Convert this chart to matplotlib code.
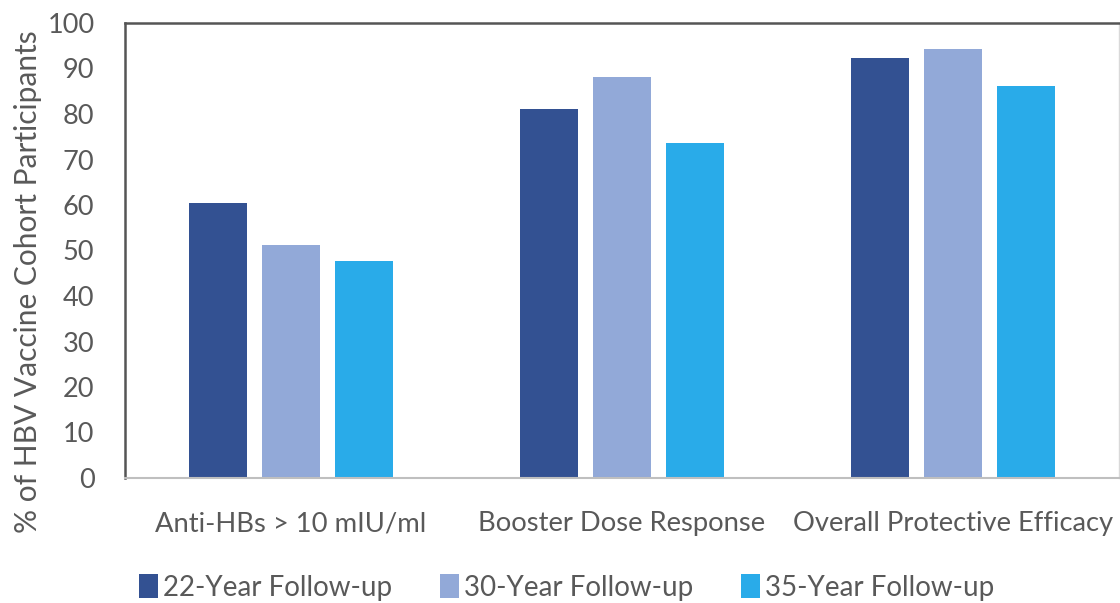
import matplotlib.pyplot as plt
import numpy as np

categories = ["Anti-HBs > 10 mIU/ml", "Booster Dose Response", "Overall Protective Efficacy"]
series_names = ["22-Year Follow-up", "30-Year Follow-up", "35-Year Follow-up"]
year22 = [60.5, 81.1, 92.3]
year30 = [51.2, 88.1, 94.3]
year35 = [47.7, 73.6, 86.2]
colors = ["#335192", "#92a9d8", "#29abe9"]

text_color = "#595959"
plt.rcParams['font.family'] = ['Lato', 'DejaVu Sans']

fig = plt.figure(figsize=(11.2, 6.03), dpi=100)
ax = fig.add_axes([125 / 1120, (603 - 478) / 603, 994 / 1120, 455 / 603])

x = np.arange(len(categories))
width = 0.175
step = 0.22
for i, (vals, name) in enumerate(zip([year22, year30, year35], series_names)):
    ax.bar(x + (i - 1) * step, vals, width, color=colors[i], label=name)

ax.set_xlim(-0.5, 2.5)
ax.set_ylim(0, 100)
ax.set_yticks(range(0, 101, 10))
ax.set_xticks(x)
ax.set_xticklabels(categories)
ax.tick_params(axis='both', length=0, colors=text_color)
ax.tick_params(axis='x', pad=24, labelsize=19.7)
ax.tick_params(axis='y', pad=22, labelsize=19.5)

for side, col, lw in [("left", "#555555", 1.8), ("top", "#555555", 1.8),
                      ("bottom", "#bfbfbf", 1.5), ("right", "#d9d9d9", 1.0)]:
    ax.spines[side].set_color(col)
    ax.spines[side].set_linewidth(lw)

# label anchor sits on its right edge (descender side) once rotated
ax.set_ylabel("% of HBV Vaccine Cohort Participants", fontsize=21.5, color=text_color)
ax.yaxis.set_label_coords((42 - 125) / 994, (478 - 282) / 455)

leg = fig.legend(loc="center", bbox_to_anchor=(566.5 / 1120, (603 - 587.5) / 603), ncol=3,
                 frameon=False, fontsize=20, handlelength=0.68, handleheight=0.95,
                 handletextpad=0.18, columnspacing=1.73)
for t in leg.get_texts():
    t.set_color(text_color)

fig.savefig("out.png", dpi=100)
